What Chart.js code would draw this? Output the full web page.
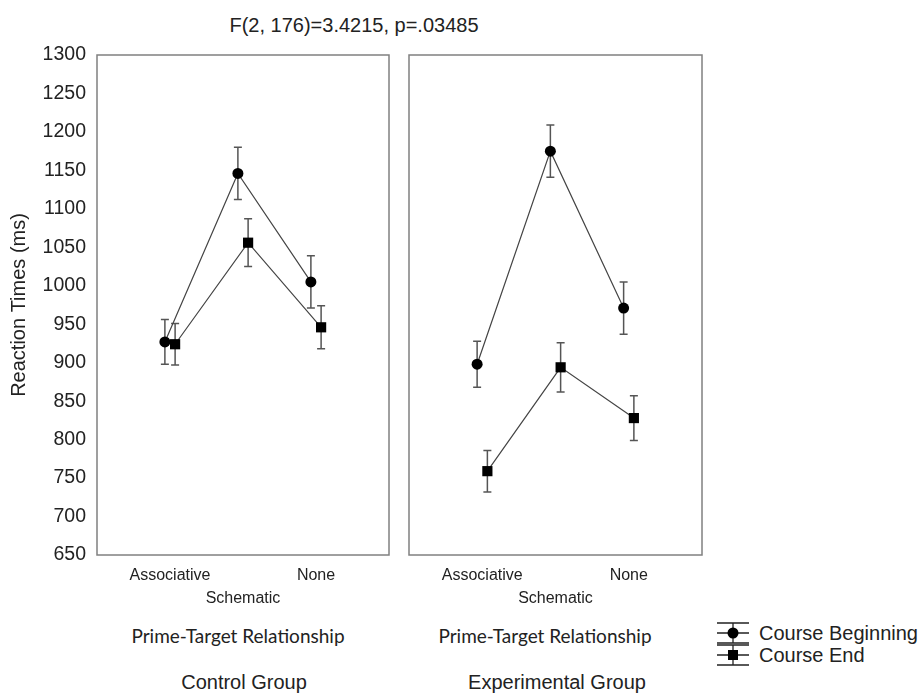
<!DOCTYPE html>
<html>
<head>
<meta charset="utf-8">
<script src="https://cdn.jsdelivr.net/npm/chart.js@4.4.1/dist/chart.umd.min.js"></script>
<style>
body{margin:0;background:#fff;font-family:'Liberation Sans',Arial,sans-serif;color:#222}
#wrap{position:relative;width:920px;height:693px;overflow:hidden;background:#fff}
canvas{position:absolute;top:0}
.t{position:absolute;white-space:nowrap;font-size:20px;line-height:20px;transform:translateX(-50%)}
.rel{font-family:Lato,'Open Sans',sans-serif;font-size:19px}
#legend{position:absolute;left:716px;top:622px}
.li{display:flex;align-items:center;height:22px;font-size:20px;white-space:nowrap}
.li svg{margin-right:9px}
</style>
</head>
<body>
<div id="wrap">
  <div class="t" style="left:354px;top:15px">F(2, 176)=3.4215, p=.03485</div>
  <canvas id="ctrl" width="400" height="615" style="left:0"></canvas>
  <canvas id="exp" width="310" height="615" style="left:400px"></canvas>
  <div class="t rel" style="left:238px;top:626px">Prime-Target Relationship</div>
  <div class="t rel" style="left:545px;top:626px">Prime-Target Relationship</div>
  <div class="t" style="left:244px;top:672px">Control Group</div>
  <div class="t" style="left:557px;top:672px">Experimental Group</div>
  <div id="legend">
    <div class="li"><svg width="34" height="22"><path d="M1 1H33M1 21H33M1 11H33M17 1V21" stroke="#222" stroke-width="1.3" fill="none"/><circle cx="17" cy="11" r="5.5" fill="#000"/></svg>Course Beginning</div>
    <div class="li"><svg width="34" height="22"><path d="M1 1H33M1 21H33M1 11H33M17 1V21" stroke="#222" stroke-width="1.3" fill="none"/><rect x="12" y="6" width="10" height="10" fill="#000"/></svg>Course End</div>
  </div>
</div>
<script>
const categories = ['Associative', 'Schematic', 'None'];
const seriesNames = ['Course Beginning', 'Course End'];

// Control group means / error (ms)
const controlBegin = [927, 1146, 1005];
const controlBeginErr = [29, 34, 34];
const controlEnd = [924, 1056, 946];
const controlEndErr = [27, 31, 28];

// Experimental group means / error (ms)
const expBegin = [898, 1175, 971];
const expBeginErr = [30, 34, 34];
const expEnd = [759, 894, 828];
const expEndErr = [27, 32, 29];

const yMin = 650, yMax = 1300, yStep = 50;
const dodge = 0.07;
const FONT = "'Liberation Sans', Arial, sans-serif";

const errorBars = {
  id: 'errorBars',
  beforeDatasetsDraw(chart) {
    const { ctx } = chart;
    const y = chart.scales.y;
    ctx.save();
    ctx.strokeStyle = '#555';
    ctx.lineWidth = 1.5;
    chart.data.datasets.forEach((ds, i) => {
      chart.getDatasetMeta(i).data.forEach((pt, j) => {
        const top = y.getPixelForValue(ds.data[j].y + ds.errors[j]);
        const bot = y.getPixelForValue(ds.data[j].y - ds.errors[j]);
        ctx.beginPath();
        ctx.moveTo(pt.x, top); ctx.lineTo(pt.x, bot);
        ctx.moveTo(pt.x - 4, top); ctx.lineTo(pt.x + 4, top);
        ctx.moveTo(pt.x - 4, bot); ctx.lineTo(pt.x + 4, bot);
        ctx.stroke();
      });
    });
    ctx.restore();
  }
};

const frame = {
  id: 'frame',
  afterDraw(chart) {
    const { ctx, chartArea: a } = chart;
    ctx.save();
    ctx.strokeStyle = '#808080';
    ctx.lineWidth = 1.5;
    ctx.strokeRect(a.left, a.top, a.right - a.left, a.bottom - a.top);
    ctx.restore();
  }
};

function series(label, vals, errs, style, radius) {
  return {
    label,
    data: vals.map((v, i) => ({ x: i + 1 + (style === 'circle' ? -dodge : dodge), y: v })),
    errors: errs,
    pointStyle: style,
    pointRadius: radius,
    pointBackgroundColor: '#000',
    pointBorderColor: '#000',
    pointBorderWidth: 0,
    borderColor: '#444',
    borderWidth: 1.2,
    showLine: true,
    fill: false
  };
}

function opts(showY) {
  return {
    responsive: false,
    animation: false,
    layout: { padding: showY ? { top: 55, left: 0, right: 11, bottom: 0 } : { top: 55, left: 9, right: 8, bottom: 0 } },
    plugins: { legend: { display: false }, tooltip: { enabled: false } },
    scales: {
      x: {
        type: 'linear', min: 0, max: 4,
        grid: { display: false, drawTicks: false },
        border: { display: false },
        afterBuildTicks: s => { s.ticks = categories.map((c, i) => ({ value: i + 1 })); },
        afterFit: s => { s.height = 60; },
        ticks: {
          padding: 9, autoSkip: false, maxRotation: 0, color: '#222',
          font: { family: FONT, size: 16, lineHeight: 1.44 },
          callback: (v, i) => i % 2 ? ['', categories[i]] : categories[i]
        }
      },
      y: {
        display: showY, min: yMin, max: yMax,
        grid: { display: false, drawTicks: false },
        border: { display: false },
        afterFit: s => { s.width = showY ? 97 : 0; },
        ticks: { stepSize: yStep, padding: 11, color: '#222', font: { family: FONT, size: 19.5 }, callback: v => String(v) },
        title: { display: true, text: 'Reaction Times (ms)', color: '#222', font: { family: FONT, size: 20 }, padding: { top: 7, bottom: 0 } }
      }
    }
  };
}

new Chart(document.getElementById('ctrl'), {
  type: 'scatter',
  data: { datasets: [
    series(seriesNames[0], controlBegin, controlBeginErr, 'circle', 5.5),
    series(seriesNames[1], controlEnd, controlEndErr, 'rect', 7.2)
  ] },
  options: opts(true),
  plugins: [errorBars, frame]
});

new Chart(document.getElementById('exp'), {
  type: 'scatter',
  data: { datasets: [
    series(seriesNames[0], expBegin, expBeginErr, 'circle', 5.5),
    series(seriesNames[1], expEnd, expEndErr, 'rect', 7.2)
  ] },
  options: opts(false),
  plugins: [errorBars, frame]
});
</script>
</body>
</html>
